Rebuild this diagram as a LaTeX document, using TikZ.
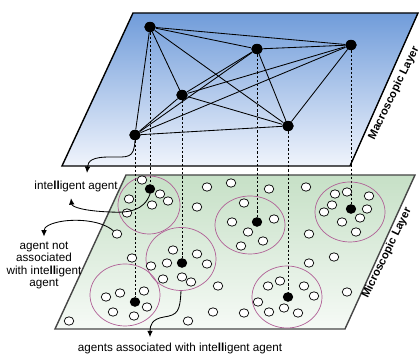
\documentclass[tikz,border=0pt]{standalone}
\usepackage{fontspec}
\setmainfont{Liberation Sans}
\usetikzlibrary{shapes.geometric,arrows.meta}
\definecolor{macrotop}{RGB}{112,156,218}
\definecolor{macrobot}{RGB}{240,244,252}
\definecolor{microtop}{RGB}{198,224,198}
\definecolor{microbot}{RGB}{246,250,246}
\definecolor{ringpink}{RGB}{176,96,150}
\definecolor{rimgray}{RGB}{70,70,70}

\begin{document}
\begin{tikzpicture}[x=1cm,y=1cm,line width=.35pt,font=\fontsize{8.3}{8.7}\selectfont,
  macronode/.style={ellipse,fill=black,inner sep=0pt,minimum width=.29cm,minimum height=.26cm},
  micronode/.style={ellipse,fill=black,inner sep=0pt,minimum width=.26cm,minimum height=.24cm},
  agentnode/.style={ellipse,draw=black,fill=white,line width=.5pt,inner sep=0pt,minimum width=.24cm,minimum height=.21cm},
  group/.style={ellipse,draw=ringpink,line width=.5pt,inner sep=0pt},
  edge/.style={line width=.6pt},
  link/.style={line width=.5pt,dash pattern=on 1.6pt off 1.4pt},
  callout/.style={line width=.6pt,-{Latex[length=4.5pt,width=4pt]}},
  layer/.style={font=\fontsize{8}{9}\selectfont\bfseries,inner sep=1pt}]
\useasboundingbox (0,0) rectangle (10.5,8.875);
\shade[top color=macrotop,bottom color=macrobot] (1.55,4.725)--(8.75,4.725)--(10.45,8.55)--(3.325,8.55)--cycle;
\draw[line width=1pt] (1.55,4.725)--(8.75,4.725)--(10.45,8.55)--(3.325,8.55)--cycle;
\shade[top color=microtop,bottom color=microbot] (1.375,0.65)--(8.625,0.65)--(10.375,4.5)--(3.15,4.5)--cycle;
\draw[line width=1pt,rimgray] (1.375,0.65)--(8.625,0.65)--(10.375,4.5)--(3.15,4.5)--cycle;
\node[layer,rotate=64] (lbMacro) at (9.85,6.55) {Macroscopic Layer};
\node[layer,rotate=64] (lbMicro) at (9.675,2.55) {Microscopic Layer};
\node[macronode] (macA) at (3.75,8.2) {};
\node[macronode] (macB) at (6.425,7.65) {};
\node[macronode] (macC) at (8.775,7.75) {};
\node[macronode] (macD) at (4.55,6.5) {};
\node[macronode] (macE) at (3.375,5.5) {};
\node[macronode] (macF) at (7.2,5.725) {};
\node[micronode] (micA) at (3.75,4.15) {};
\node[micronode] (micB) at (6.425,3.325) {};
\node[micronode] (micC) at (8.775,3.65) {};
\node[micronode] (micD) at (4.55,2.3) {};
\node[micronode] (micE) at (3.375,1.325) {};
\node[micronode] (micF) at (7.2,1.45) {};
\draw[link] (macA)--(micA);
\draw[link] (macB)--(micB);
\draw[link] (macC)--(micC);
\draw[link] (macD)--(micD);
\draw[link] (macE)--(micE);
\draw[link] (macF)--(micF);
\draw[edge] (macA)--(macB);
\draw[edge] (macA)--(macC);
\draw[edge] (macA)--(macD);
\draw[edge] (macA)--(macE);
\draw[edge] (macA)--(macF);
\draw[edge] (macB)--(macC);
\draw[edge] (macB)--(macD);
\draw[edge] (macB)--(macE);
\draw[edge] (macB)--(macF);
\draw[edge] (macC)--(macD);
\draw[edge] (macC)--(macE);
\draw[edge] (macC)--(macF);
\draw[edge] (macD)--(macE);
\draw[edge] (macD)--(macF);
\draw[edge] (macE)--(macF);
\node[group,minimum width=1.55cm,minimum height=1.45cm] (grA) at (3.725,3.75) {};
\node[group,minimum width=1.75cm,minimum height=1.45cm] (grB) at (6.25,3.25) {};
\node[group,minimum width=1.75cm,minimum height=1.5cm] (grC) at (8.75,3.575) {};
\node[group,minimum width=1.75cm,minimum height=1.575cm] (grD) at (4.525,2.4) {};
\node[group,minimum width=1.75cm,minimum height=1.55cm] (grE) at (3.125,1.5) {};
\node[group,minimum width=1.75cm,minimum height=1.55cm] (grF) at (7.175,1.45) {};
\node[agentnode] (a1) at (3.55,4.375) {};
\node[agentnode] (a2) at (4.0,4.025) {};
\node[agentnode] (a3) at (4.2,3.85) {};
\node[agentnode] (a4) at (3.225,3.9) {};
\node[agentnode] (a5) at (3.8,3.75) {};
\node[agentnode] (a6) at (3.175,3.55) {};
\node[agentnode] (a7) at (5.175,4.2) {};
\node[agentnode] (a8) at (5.775,4.3) {};
\node[agentnode] (a9) at (6.725,4.15) {};
\node[agentnode] (a10) at (7.65,4.2) {};
\node[agentnode] (a11) at (4.925,3.7) {};
\node[agentnode] (a12) at (2.925,3.025) {};
\node[agentnode] (a13) at (6.1,3.8) {};
\node[agentnode] (a14) at (5.8,3.325) {};
\node[agentnode] (a15) at (6.85,3.4) {};
\node[agentnode] (a16) at (6.2,3.075) {};
\node[agentnode] (a17) at (6.575,2.85) {};
\node[agentnode] (a18) at (6.025,2.725) {};
\node[agentnode] (a19) at (8.375,4.025) {};
\node[agentnode] (a20) at (8.675,4.075) {};
\node[agentnode] (a21) at (9.225,3.975) {};
\node[agentnode] (a22) at (8.3,3.75) {};
\node[agentnode] (a23) at (8.1,3.575) {};
\node[agentnode] (a24) at (9.175,3.65) {};
\node[agentnode] (a25) at (9.0,3.425) {};
\node[agentnode] (a26) at (8.55,3.325) {};
\node[agentnode] (a27) at (8.9,3.075) {};
\node[agentnode] (a28) at (7.725,3.025) {};
\node[agentnode] (a29) at (4.325,2.625) {};
\node[agentnode] (a30) at (4.925,2.525) {};
\node[agentnode] (a31) at (4.175,2.3) {};
\node[agentnode] (a32) at (5.175,2.275) {};
\node[agentnode] (a33) at (3.775,2.225) {};
\node[agentnode] (a34) at (3.3,2.425) {};
\node[agentnode] (a35) at (4.075,1.9) {};
\node[agentnode] (a36) at (4.55,1.95) {};
\node[agentnode] (a37) at (4.775,1.825) {};
\node[agentnode] (a38) at (7.725,2.3) {};
\node[agentnode] (a39) at (8.35,2.45) {};
\node[agentnode] (a40) at (5.45,1.725) {};
\node[agentnode] (a41) at (8.675,1.575) {};
\node[agentnode] (a42) at (6.7,1.725) {};
\node[agentnode] (a43) at (7.0,1.85) {};
\node[agentnode] (a44) at (7.6,1.725) {};
\node[agentnode] (a45) at (7.85,1.475) {};
\node[agentnode] (a46) at (6.45,1.325) {};
\node[agentnode] (a47) at (6.725,1.075) {};
\node[agentnode] (a48) at (7.1,1.175) {};
\node[agentnode] (a49) at (7.45,1.05) {};
\node[agentnode] (a50) at (6.1,1.05) {};
\node[agentnode] (a51) at (5.325,1.075) {};
\node[agentnode] (a52) at (4.7,0.85) {};
\node[agentnode] (a53) at (1.725,0.85) {};
\node[agentnode] (a54) at (3.0,1.55) {};
\node[agentnode] (a55) at (2.65,1.45) {};
\node[agentnode] (a56) at (3.6,1.6) {};
\node[agentnode] (a57) at (2.825,1.075) {};
\node[agentnode] (a58) at (3.675,1.2) {};
\node[agentnode] (a59) at (3.35,0.975) {};
\node[inner sep=1pt] (lbIntel) at (1.9,4.225) {inte\textbf{ll}igent agent};
\node[align=center,inner sep=1pt] (lbNot) at (1.1,2.2375) {agent not\\associated\\with inte\textbf{ll}igent\\agent};
\node[inner sep=1pt] (lbAssoc) at (4.5,0.17) {agents associated with inte\textbf{ll}igent agent};
\draw[callout] (macE.south) .. controls (3.35,4.9) and (3.2,4.95) .. (2.75,4.95) .. controls (2.3,4.95) and (2.2,4.85) .. ([xshift=.275cm,yshift=.15cm]lbIntel.north);
\draw[callout] (micA.south) .. controls (3.6,3.6) and (3.2,3.55) .. (2.75,3.575) .. controls (2.1,3.6) and (1.8,3.7) .. ([xshift=-.125cm,yshift=-.13cm]lbIntel.south);
\draw[callout] (a12.north west) .. controls (2.55,3.35) and (2.0,3.4) .. (1.6,3.35) .. controls (1.25,3.3) and (1.1,3.2) .. ([yshift=.1cm]lbNot.north);
\draw[callout] (grD.south) .. controls (4.5,1.1) and (4.45,1.0) .. (4.1,0.95) .. controls (3.8,0.9) and (3.75,0.75) .. ([xshift=-.75cm,yshift=.1cm]lbAssoc.north);
\end{tikzpicture}
\end{document}
